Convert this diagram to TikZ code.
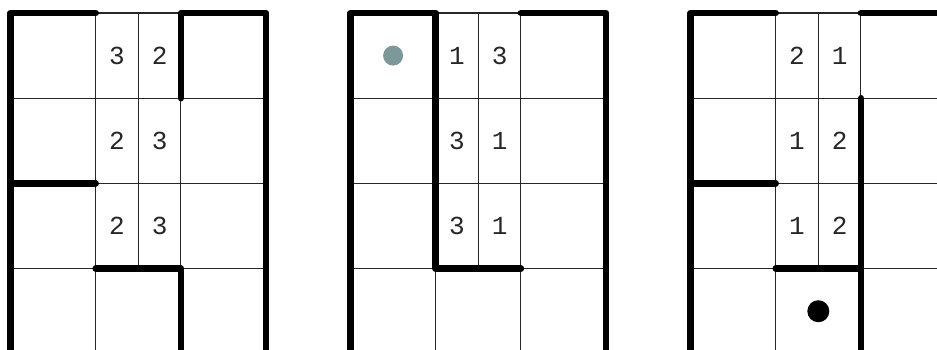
\documentclass[tikz,border=0pt]{standalone}
\usepackage{fontspec}
\setmonofont{Liberation Mono}
\definecolor{dotgrey}{RGB}{125,152,152}
\begin{document}
\begin{tikzpicture}[
        x=85.2pt, y=-85.2pt,
        gridline/.style={line width=1.1pt, black!85},
        wall/.style={line width=6.5pt, line cap=round, line join=round},
        digit/.style={font=\ttfamily\fontsize{26}{26}\selectfont, inner sep=0pt,
            text=black!85}
    ]
        \clip (-0.1232,-0.1526) rectangle (10.874,3.944);
        \fill[white] (-0.1232,-0.1526) rectangle (10.874,3.944);
        % thin grid of the three boards
        \foreach \k in {0,1,2} {
            \begin{scope}[xshift=\k*340pt]
                \foreach \r in {0,1,2,3}
                    \draw[gridline] (0,\r) -- (3,\r);
                \foreach \c in {0,1,2,3}
                    \draw[gridline] (\c,0) -- (\c,4.2);
                \draw[gridline] (1.5,0) -- (1.5,3);
            \end{scope}
        }
        % board one
        \draw[wall] (1,0) -- (0,0) -- (0,4.2);
        \draw[wall] (2,1) -- (2,0) -- (3,0) -- (3,4.2);
        \draw[wall] (0,2) -- (1,2);
        \draw[wall] (1,3) -- (2,3) -- (2,4.2);
        \node[digit] (aa) at (1.25,0.5) {3};
        \node[digit] (ab) at (1.75,0.5) {2};
        \node[digit] (ba) at (1.25,1.5) {2};
        \node[digit] (bb) at (1.75,1.5) {3};
        \node[digit] (ca) at (1.25,2.5) {2};
        \node[digit] (cb) at (1.75,2.5) {3};
        % board two
        \begin{scope}[xshift=340pt]
            \draw[wall] (0,4.2) -- (0,0) -- (1,0) -- (1,3) -- (2,3);
            \draw[wall] (2,0) -- (3,0) -- (3,4.2);
            \fill[dotgrey] (0.5,0.5) circle[radius=10pt];
            \node[digit] (aa2) at (1.25,0.5) {1};
            \node[digit] (ab2) at (1.75,0.5) {3};
            \node[digit] (ba2) at (1.25,1.5) {3};
            \node[digit] (bb2) at (1.75,1.5) {1};
            \node[digit] (ca2) at (1.25,2.5) {3};
            \node[digit] (cb2) at (1.75,2.5) {1};
        \end{scope}
        % board three
        \begin{scope}[xshift=680pt]
            \draw[wall] (1,0) -- (0,0) -- (0,4.2);
            \draw[wall] (2,0) -- (3,0) -- (3,4.2);
            \draw[wall] (0,2) -- (1,2);
            \draw[wall] (2,1) -- (2,4.2);
            \draw[wall] (1,3) -- (2,3);
            \fill[black] (1.5,3.5) circle[radius=11pt];
            \node[digit] (aa3) at (1.25,0.5) {2};
            \node[digit] (ab3) at (1.75,0.5) {1};
            \node[digit] (ba3) at (1.25,1.5) {1};
            \node[digit] (bb3) at (1.75,1.5) {2};
            \node[digit] (ca3) at (1.25,2.5) {1};
            \node[digit] (cb3) at (1.75,2.5) {2};
        \end{scope}
    \end{tikzpicture}
\end{document}
